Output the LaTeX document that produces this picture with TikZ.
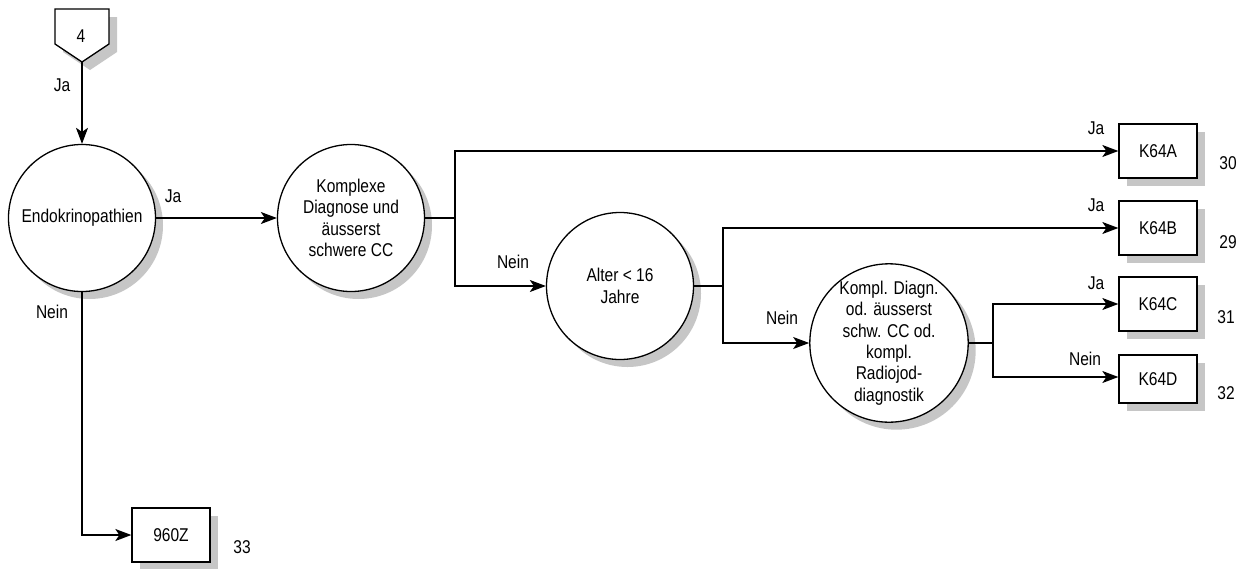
\documentclass[tikz,border=0pt]{standalone}
\usepackage{fontspec}
\setmainfont{Liberation Sans}[FakeStretch=0.84]
\usetikzlibrary{arrows.meta,shadows}
\begin{document}
\begin{tikzpicture}[x=1pt,y=-1pt,
  line width=1.3pt,
  every node/.style={font=\fontsize{18.5}{21.3}\selectfont},
  shad/.style={drop shadow={shadow xshift=7.5pt,shadow yshift=-7.5pt,fill=gray!45,draw=none,opacity=1}},
  dec/.style={circle,draw,fill=white,minimum size=147pt,inner sep=0pt,align=center,shad},
  res/.style={rectangle,draw,fill=white,minimum width=78pt,minimum height=54pt,inner sep=0pt,shad},
  lbl/.style={inner sep=0pt},
  arr/.style={-{Stealth[length=16pt,width=12pt,inset=4pt]}}]
\useasboundingbox (0,0) rectangle (1255,568);
% off-page connector
\fill[gray!45] (63,17) -- (117,17) -- (117,52) -- (90,70) -- (63,52) -- cycle;
\draw[fill=white] (55,9) -- (109,9) -- (109,44) -- (82,62) -- (55,44) -- cycle;
\node[lbl] (p4) at (81,36) {4};
\coordinate (ptip) at (82,62);
% decisions
\node[dec] (endo) at (82,218) {Endokrinopathien};
\node[dec] (kompl) at (351,218) {Komplexe\\Diagnose und\\äusserst\\schwere CC};
\node[dec] (alter) at (620,286) {Alter < 16\\Jahre};
\node[dec] (kd) at (889,343) {Kompl. Diagn.\\od. äusserst\\schw. CC od.\\kompl.\\Radiojod-\\diagnostik};
% results
\node[res] (a) at (1158,151) {K64A};
\node[res] (b) at (1158,228) {K64B};
\node[res] (c) at (1158,304) {K64C};
\node[res,minimum height=48pt] (d) at (1158,379) {K64D};
\node[res] (z) at (171,535) {960Z};
% numbers
\node[lbl] (na) at (1228,163) {30};
\node[lbl] (nb) at (1228,242) {29};
\node[lbl] (nc) at (1226,317) {31};
\node[lbl] (nd) at (1226,393) {32};
\node[lbl] (nz) at (242,547) {33};
% branch coordinates
\coordinate (j1) at (455,218);
\coordinate (j2) at (723,286);
\coordinate (j3) at (993,343);
% connectors
\draw[arr] (ptip) -- (endo.north);
\draw[arr] (endo.east) -- (kompl.west);
\draw[arr] (endo.south) |- (z.west);
\draw (kompl.east) -- (j1);
\draw[arr] (j1) |- (a.west);
\draw[arr] (j1) |- (alter.west);
\draw (alter.east) -- (j2);
\draw[arr] (j2) |- (b.west);
\draw[arr] (j2) |- (kd.west);
\draw (kd.east) -- (j3);
\draw[arr] (j3) |- (c.west);
\draw[arr] (j3) |- ([yshift=2pt]d.west);
% labels
\node[lbl] (l1) at (62,85) {Ja};
\node[lbl] (l2) at (173,196) {Ja};
\node[lbl] (l3) at (52,312) {Nein};
\node[lbl] (l4) at (513,262) {Nein};
\node[lbl] (l5) at (1096,128) {Ja};
\node[lbl] (l6) at (1096,205) {Ja};
\node[lbl] (l7) at (782,318) {Nein};
\node[lbl] (l8) at (1096,283) {Ja};
\node[lbl] (l9) at (1085,359) {Nein};
\end{tikzpicture}
\end{document}
